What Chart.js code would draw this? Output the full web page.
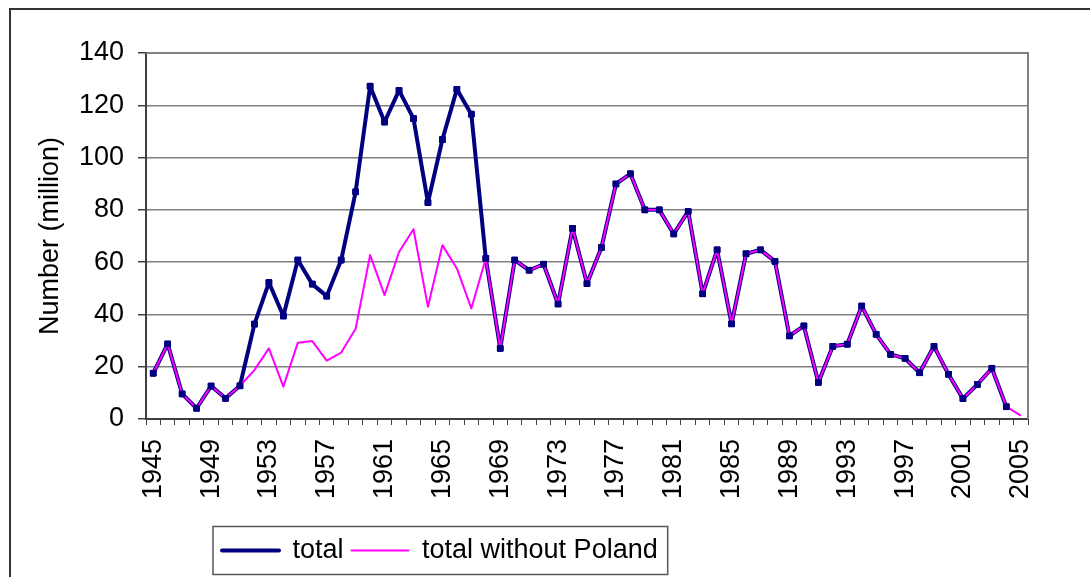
<!DOCTYPE html>
<html lang="en">
<head>
    <meta charset="UTF-8">
    <title>Number (million) 1945-2005</title>
    <script src="https://cdn.jsdelivr.net/npm/chart.js"></script>
    <style>
        html, body {
            margin: 0;
            padding: 0;
            background: #fff;
        }
        #wrap {
            width: 1090px;
            height: 577px;
        }
    </style>
</head>
<body>

<div id="wrap"><canvas id="chart" width="1090" height="577"></canvas></div>

<script>
    // Years on the category axis
    const years = [
        '1945', '1946', '1947', '1948', '1949', '1950', '1951', '1952', '1953', '1954',
        '1955', '1956', '1957', '1958', '1959', '1960', '1961', '1962', '1963', '1964',
        '1965', '1966', '1967', '1968', '1969', '1970', '1971', '1972', '1973', '1974',
        '1975', '1976', '1977', '1978', '1979', '1980', '1981', '1982', '1983', '1984',
        '1985', '1986', '1987', '1988', '1989', '1990', '1991', '1992', '1993', '1994',
        '1995', '1996', '1997', '1998', '1999', '2000', '2001', '2002', '2003', '2004',
        '2005'
    ];

    // total (million)
    const total = [
        17.5, 28.7, 9.6, 4.1, 12.6, 7.9, 12.7, 36.3, 52.2, 39.4,
        60.8, 51.6, 47.0, 60.8, 86.9, 127.3, 113.6, 125.7, 114.9, 82.8,
        106.9, 126.1, 116.6, 61.4, 27.0, 60.8, 56.9, 59.2, 44.0, 72.9,
        51.8, 65.6, 89.9, 93.8, 80.0, 80.0, 70.8, 79.4, 47.9, 64.7,
        36.4, 63.2, 64.7, 60.3, 31.8, 35.6, 14.0, 27.8, 28.6, 43.2,
        32.4, 24.7, 23.2, 17.7, 27.8, 17.1, 7.8, 13.2, 19.4, 4.7,
        null
    ];

    // total without Poland (million)
    const withoutPoland = [
        17.5, 28.7, 9.6, 4.1, 12.6, 7.9, 12.7, 18.7, 27.0, 12.4,
        29.2, 29.8, 22.3, 25.4, 34.5, 62.7, 47.4, 63.9, 72.6, 42.9,
        66.5, 57.6, 42.3, 61.4, 27.0, 60.8, 56.9, 59.2, 44.0, 72.9,
        51.8, 65.6, 89.9, 93.8, 80.0, 80.0, 70.8, 79.4, 47.9, 64.7,
        36.4, 63.2, 64.7, 60.3, 31.8, 35.6, 14.0, 27.8, 28.6, 43.2,
        32.4, 24.7, 23.2, 17.7, 27.8, 17.1, 7.8, 13.2, 19.4, 4.7,
        1.3
    ];

    const yTicks = [0, 20, 40, 60, 80, 100, 120, 140];

    const FONT = '"Liberation Sans", Arial, sans-serif';

    // frame around the whole chart, plot border and legend box
    const framePlugin = {
        id: 'frame',
        afterLayout(chart) {
            // legend sits left of centre like the original
            const lg = chart.legend;
            const shift = 214 - lg.left;
            lg.left += shift;
            lg.right += shift;
        },
        beforeDatasetsDraw(chart) {
            const {ctx, chartArea: a} = chart;
            ctx.save();
            ctx.strokeStyle = '#808080';
            ctx.lineWidth = 2;
            ctx.beginPath();
            ctx.moveTo(a.left, a.top);
            ctx.lineTo(a.right, a.top);
            ctx.lineTo(a.right, a.bottom);
            ctx.stroke();
            ctx.restore();
        },
        afterDatasetsDraw(chart) {
            // markers of "total" stay on top of both lines
            const meta = chart.getDatasetMeta(0);
            meta.data.forEach(pt => {
                if (!pt.skip) pt.draw(chart.ctx, chart.chartArea);
            });
        },
        afterDraw(chart) {
            const ctx = chart.ctx;
            ctx.save();
            ctx.strokeStyle = '#333';
            ctx.lineWidth = 2;
            ctx.strokeRect(10, 9, 1200, 800);

            const boxes = chart.legend.legendHitBoxes;
            if (boxes && boxes.length) {
                const first = boxes[0];
                const last = boxes[boxes.length - 1];
                const cy = first.top + first.height / 2;
                ctx.strokeStyle = '#555';
                ctx.lineWidth = 1.5;
                ctx.strokeRect(first.left - 9, cy - 24, last.left + last.width + 10 - (first.left - 9), 48);
            }
            ctx.restore();
        }
    };

    const ctx = document.getElementById('chart').getContext('2d');
    new Chart(ctx, {
        type: 'line',
        data: {
            labels: years,
            datasets: [{
                label: 'total',
                data: total,
                borderColor: '#000080',
                backgroundColor: '#000080',
                borderWidth: 4,
                borderJoinStyle: 'round',
                pointStyle: 'rect',
                pointRadius: 4,
                pointBackgroundColor: '#000080',
                pointBorderColor: '#000080',
                pointBorderWidth: 1,
                tension: 0,
                order: 1
            }, {
                label: 'total without Poland',
                data: withoutPoland,
                borderColor: '#ff00ff',
                backgroundColor: '#ff00ff',
                borderWidth: 2,
                borderJoinStyle: 'round',
                pointRadius: 0,
                tension: 0,
                order: 0
            }]
        },
        options: {
            responsive: false,
            animation: false,
            layout: {
                padding: {top: 53, right: 62, left: 0, bottom: 3}
            },
            plugins: {
                legend: {
                    position: 'bottom',
                    align: 'start',
                    labels: {
                        font: {family: FONT, size: 27},
                        color: '#000',
                        boxWidth: 57,
                        boxHeight: 0,
                        padding: 8,
                        sort: (a, b) => a.datasetIndex - b.datasetIndex
                    }
                },
                tooltip: {enabled: false}
            },
            scales: {
                x: {
                    offset: true,
                    afterFit: (scale) => { scale.height = 110; },
                    grid: {
                        offset: true,
                        drawOnChartArea: false,
                        drawTicks: true,
                        tickLength: 6,
                        color: '#404040',
                        lineWidth: 1
                    },
                    border: {color: '#404040', width: 2},
                    ticks: {
                        autoSkip: false,
                        minRotation: 90,
                        maxRotation: 90,
                        padding: 14,
                        color: '#000',
                        font: {family: FONT, size: 27},
                        callback: function(val, index) {
                            return index % 4 === 0 ? this.getLabelForValue(val) : '';
                        }
                    }
                },
                y: {
                    min: yTicks[0],
                    max: yTicks[yTicks.length - 1],
                    afterFit: (scale) => { scale.width = 146; },
                    afterBuildTicks: (scale) => {
                        scale.ticks = yTicks.map(v => ({value: v}));
                    },
                    grid: {
                        color: '#808080',
                        lineWidth: 1.5,
                        tickLength: 8,
                        tickColor: '#404040'
                    },
                    border: {color: '#404040', width: 2},
                    ticks: {
                        padding: 14,
                        color: '#000',
                        font: {family: FONT, size: 27}
                    },
                    title: {
                        display: true,
                        text: 'Number (million)',
                        color: '#000',
                        font: {family: FONT, size: 27},
                        padding: {top: 34, bottom: 0}
                    }
                }
            }
        },
        plugins: [framePlugin]
    });
</script>

</body>
</html>
